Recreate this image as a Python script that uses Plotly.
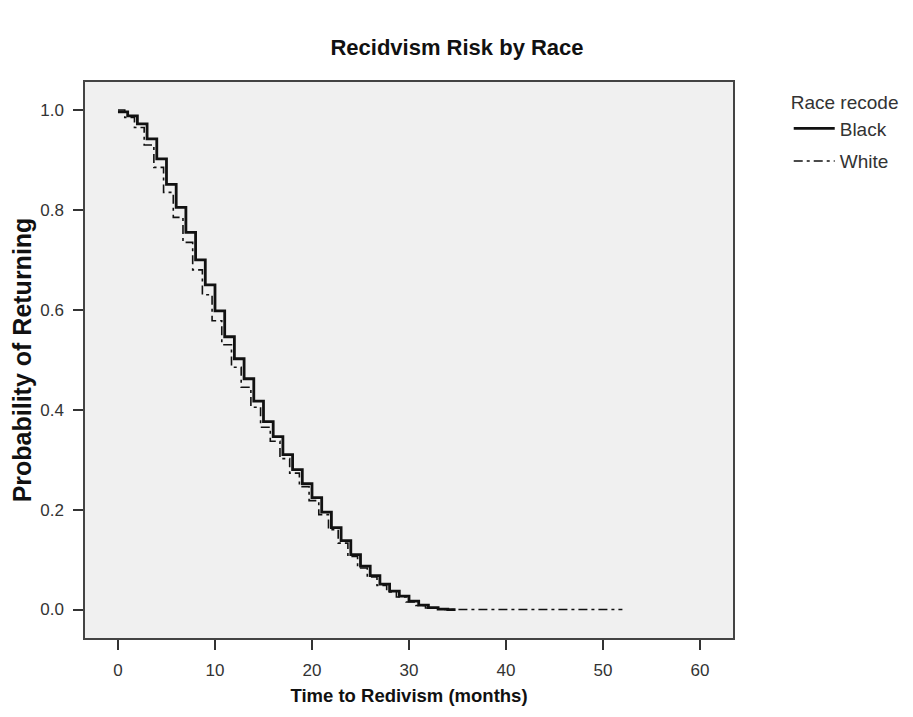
import plotly.graph_objects as go

# Kaplan-Meier style step data (time in months, survival probability)
black_time = list(range(0, 35)) + [34.8]
black_surv = [0.996, 0.988, 0.972, 0.942, 0.902, 0.851, 0.805, 0.755, 0.700, 0.650,
              0.598, 0.546, 0.502, 0.462, 0.417, 0.376, 0.346, 0.310, 0.280, 0.252,
              0.224, 0.195, 0.164, 0.138, 0.110, 0.087, 0.068, 0.051, 0.037, 0.027,
              0.017, 0.009, 0.004, 0.001, 0.000, 0.000]

white_time = [0] + [t + 0.7 for t in range(0, 34)] + [52.0]
white_surv = [1.0, 0.985, 0.965, 0.930, 0.885, 0.835, 0.785, 0.735, 0.680, 0.630,
              0.578, 0.530, 0.485, 0.445, 0.405, 0.365, 0.337, 0.302, 0.273, 0.246,
              0.218, 0.190, 0.160, 0.133, 0.106, 0.083, 0.065, 0.048, 0.035, 0.025,
              0.015, 0.008, 0.003, 0.001, 0.000, 0.000]

x_ticks = [0, 10, 20, 30, 40, 50, 60]
y_ticks = [0.0, 0.2, 0.4, 0.6, 0.8, 1.0]
y_tick_labels = ["0.0", "0.2", "0.4", "0.6", "0.8", "1.0"]

FONT = "Liberation Sans, Arial, sans-serif"

fig = go.Figure()
fig.add_trace(go.Scatter(
    x=white_time, y=white_surv, mode="lines", line_shape="hv", name="White",
    legendgroup="w", legendrank=2,
    line=dict(color="#111111", width=1.6, dash="9px,4px,3px,4px"),
))
fig.add_trace(go.Scatter(
    x=black_time, y=black_surv, mode="lines", line_shape="hv", name="Black",
    legendgroup="b", legendrank=1,
    line=dict(color="#111111", width=2.8),
))

fig.update_layout(
    width=913, height=717,
    margin=dict(l=75, r=188, t=74, b=87),
    paper_bgcolor="white",
    plot_bgcolor="#f0f0f0",
    font=dict(family=FONT, size=17, color="#333333"),
    title=dict(text="Recidvism Risk by Race", x=0.4918, xref="container", xanchor="center",
               y=1 - 39 / 717, yref="container", yanchor="middle",
               font=dict(family=FONT, size=22, color="#111111", weight="bold")),
    showlegend=True,
    legend=dict(
        title=dict(text="Race recode", font=dict(size=19, color="#333333")),
        traceorder="grouped",
        x=1.086, xanchor="left", y=0.995, yanchor="top",
        font=dict(size=19, color="#333333"),
        bgcolor="rgba(0,0,0,0)", itemwidth=41, tracegroupgap=5,
    ),
)
fig.update_xaxes(
    range=[-3.4, 63.4], tickvals=x_ticks, ticks="outside", ticklen=10, tickwidth=1.5,
    tickcolor="#333333", showline=True, linecolor="#444444", linewidth=1.5, mirror=True,
    showgrid=False, zeroline=False, tickfont=dict(size=17, color="#333333"),
    ticklabelstandoff=6,
    title=dict(text="Time to Redivism (months)", standoff=10,
               font=dict(family=FONT, size=18.5, color="#111111", weight="bold")),
)
fig.update_yaxes(
    range=[-0.057, 1.056], tickvals=y_ticks, ticktext=y_tick_labels, ticks="outside",
    ticklen=10, tickwidth=1.5, tickcolor="#333333", showline=True, linecolor="#444444",
    linewidth=1.5, mirror=True, showgrid=False, zeroline=False,
    tickfont=dict(size=17, color="#333333"), ticklabelstandoff=6,
    title=dict(text="Probability of Returning", standoff=3,
               font=dict(family=FONT, size=25, color="#111111", weight="bold")),
)

fig.write_html("out.html")
